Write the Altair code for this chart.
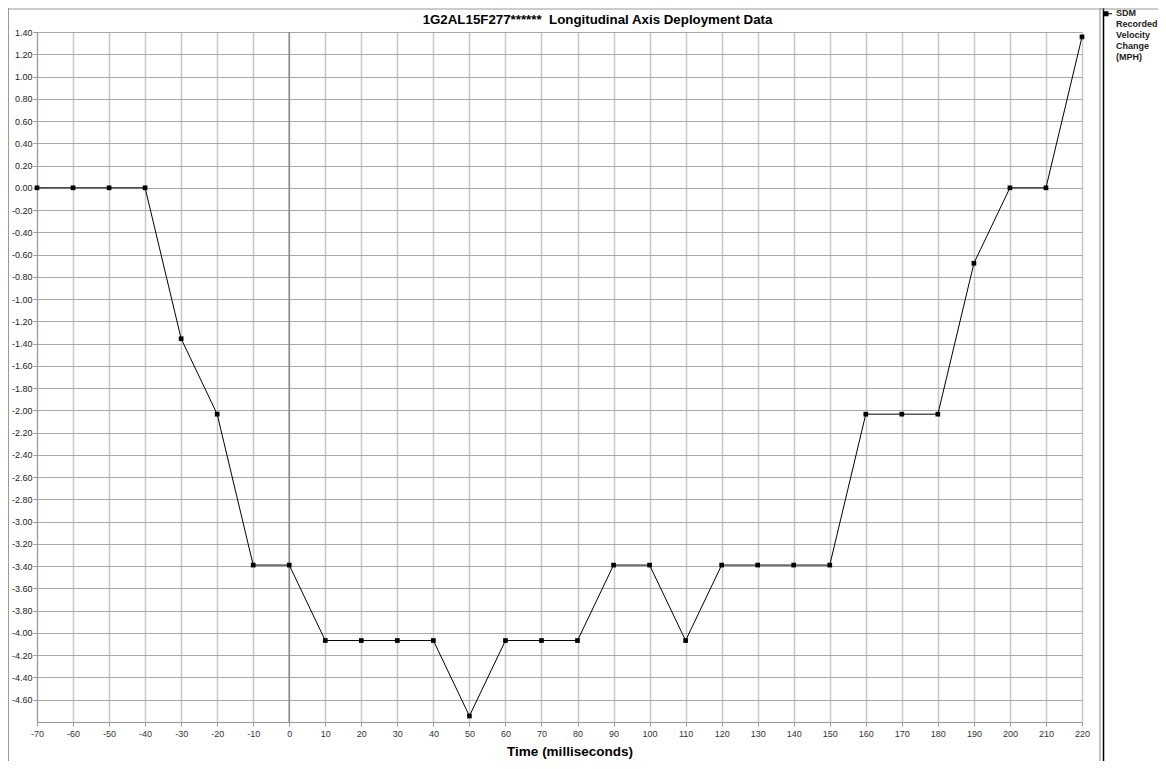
import altair as alt
import pandas as pd

times = [-70, -60, -50, -40, -30, -20, -10, 0, 10, 20, 30, 40, 50, 60, 70, 80,
         90, 100, 110, 120, 130, 140, 150, 160, 170, 180, 190, 200, 210, 220]
velocity = [0.0, 0.0, 0.0, 0.0, -1.356, -2.034, -3.39, -3.39, -4.068, -4.068,
            -4.068, -4.068, -4.746, -4.068, -4.068, -4.068, -3.39, -3.39, -4.068,
            -3.39, -3.39, -3.39, -3.39, -2.034, -2.034, -2.034, -0.678, 0.0, 0.0, 1.356]
series_name = "SDM Recorded Velocity Change (MPH)"
x_ticks = list(range(-70, 221, 10))
y_ticks = [round(-4.6 + 0.2 * i, 2) for i in range(31)]

df = pd.DataFrame({"t": times, "v": velocity, "s": series_name})

FONT = "Liberation Sans"
X_TITLE = "Time (milliseconds)"
TITLE = "1G2AL15F277******\u00a0 Longitudinal Axis Deployment Data"

xs = alt.Scale(domain=[-70, 220], nice=False, zero=False)
ys = alt.Scale(domain=[-4.8, 1.4], nice=False, zero=False)

x_axis = alt.Axis(values=x_ticks, labelExpr="toString(datum.value)",
                  labelFont=FONT, labelFontSize=9, labelOverlap=False,
                  labelColor="#333", tickColor="#999", tickSize=4,
                  domainColor="#999", gridColor="#c8c8c8", gridWidth=1.5,
                  titleFont=FONT, titleFontSize=13.5, titleFontWeight="bold",
                  titleColor="#000", titlePadding=6, labelPadding=3,
                  titleX=532.5, labelFlush=False)
y_axis = alt.Axis(values=y_ticks,
                  labelExpr="replace(format(datum.value, '.2f'), '\u2212', '-')",
                  labelFont=FONT, labelFontSize=9, labelOverlap=False,
                  labelColor="#222", tickColor="#999", tickSize=4,
                  domainColor="#999", gridColor="#a8a8a8", gridWidth=1,
                  labelPadding=1)

x_enc = alt.X("t:Q", scale=xs, title=X_TITLE, axis=x_axis)
y_enc = alt.Y("v:Q", scale=ys, title=None, axis=y_axis)

base = alt.Chart(df)

line = base.mark_line(color="black", strokeWidth=1).encode(x=x_enc, y=y_enc)

legend_symbol = ("M-2,1.1 L0,1.1 L0,3.1 L-2,3.1 Z "
                 "M0,1.9 L1.4,1.9 L1.4,2.3 L0,2.3 Z")

points = base.mark_point(shape="square", filled=True, size=22, opacity=1).encode(
    x=x_enc,
    y=y_enc,
    color=alt.Color("s:N", scale=alt.Scale(range=["black"]),
                    legend=alt.Legend(title=None, orient="none", legendX=1067, legendY=-28,
                                      labelFont=FONT, labelFontSize=9, labelFontWeight="bold",
                                      labelColor="#222", symbolType=legend_symbol,
                                      symbolSize=25, symbolStrokeWidth=0,
                                      labelExpr="split(datum.label, ' ')",
                                      labelBaseline="top", labelOffset=3, labelLimit=200)),
)

zero_df = pd.DataFrame({"t": [0]})
zero_rule = alt.Chart(zero_df).mark_rule(color="#8a8a8a", strokeWidth=1.5).encode(x=x_enc)

sep1 = alt.Chart(zero_df).mark_rule(color="#888", strokeWidth=1).encode(
    x=alt.value(1063), y=alt.value(-24), y2=alt.value(737))
sep2 = alt.Chart(zero_df).mark_rule(color="black", strokeWidth=1.5).encode(
    x=alt.value(1066.5), y=alt.value(-24), y2=alt.value(737))
top_border = alt.Chart(zero_df).mark_rule(color="#999", strokeWidth=1).encode(
    x=alt.value(-29), x2=alt.value(1121), y=alt.value(-23))
left_border = alt.Chart(zero_df).mark_rule(color="#999", strokeWidth=1).encode(
    x=alt.value(-28.5), y=alt.value(-24), y2=alt.value(737))

chart = alt.layer(zero_rule, line, points, sep1, sep2, top_border, left_border).properties(
    width=1045, height=690,
    title=alt.Title(TITLE, font=FONT, fontSize=13.3, fontWeight="bold", color="#000",
                    offset=-22, dx=38),
    autosize=alt.AutoSizeParams(type="none"),
    padding={"left": 29, "top": 24, "right": 76, "bottom": 39},
).configure_view(stroke=None).configure(background="white")

chart.save("out.html", embed_options={"renderer": "svg", "actions": False})
